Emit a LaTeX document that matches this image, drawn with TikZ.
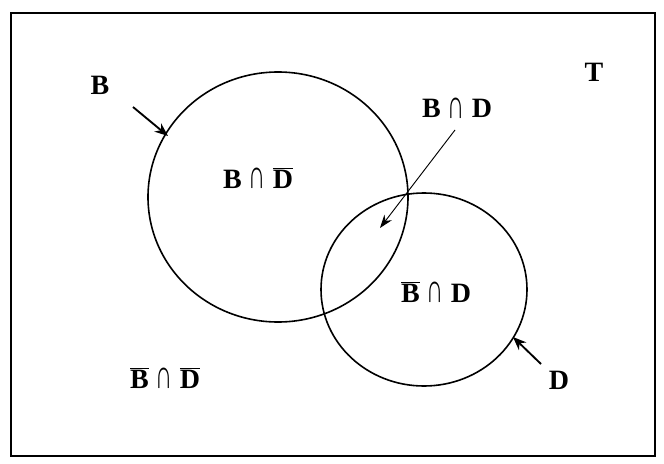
\documentclass[tikz,border=0pt]{standalone}
\usepackage{fontspec}
\setmainfont{Liberation Serif}
\usetikzlibrary{arrows.meta}
\newcommand{\ovbar}[1]{$\overline{\hbox{#1}}$}
\newcommand{\capsym}{\raisebox{-0.5pt}{\scalebox{0.85}[1.45]{∩}}}
\begin{document}
\begin{tikzpicture}[x=0.75pt,y=-0.75pt,
  lbl/.style={font=\fontsize{21}{24}\selectfont\bfseries, inner sep=1pt},
  ring/.style={draw=black, line width=1.2pt},
  pointer/.style={line width=1.4pt, -{Stealth[length=10pt,width=8pt]}},
  thinpointer/.style={line width=0.7pt, -{Stealth[length=10pt,width=7pt]}}]
\useasboundingbox (0,0) rectangle (664,464);
\draw[line width=1.8pt] (11,13) rectangle (655,456);
\draw[ring] (278,197) ellipse [x radius=130, y radius=125];
\draw[ring] (424,289.5) ellipse [x radius=103, y radius=96.5];
\node[lbl] (lB) at (100,85) {B};
\node[lbl] (lT) at (594,72) {T};
\node[lbl] (lBD) at (457,108) {B \capsym{} D};
\node[lbl] (lBnD) at (258,178) {B \capsym{} \ovbar{D}};
\node[lbl] (lnBD) at (436,292) {\ovbar{B} \capsym{} D};
\node[lbl] (lnBnD) at (165,378) {\ovbar{B} \capsym{} \ovbar{D}};
\node[lbl] (lD) at (559,380) {D};
\coordinate (bs) at (133,107);
\coordinate (be) at (168,136);
\coordinate (ds) at (541,364);
\coordinate (de) at (513,337);
\coordinate (is) at (455,130);
\coordinate (ie) at (380,228);
\draw[pointer] (bs) -- (be);
\draw[pointer] (ds) -- (de);
\draw[thinpointer] (is) -- (ie);
\end{tikzpicture}
\end{document}
